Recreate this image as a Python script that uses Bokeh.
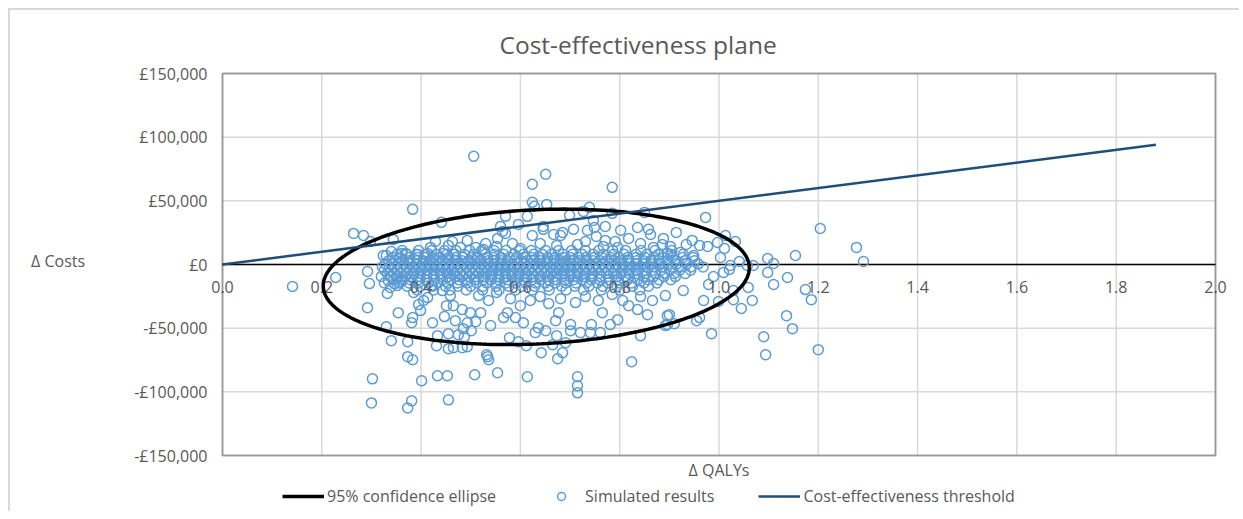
import numpy as np
from bokeh.plotting import figure
from bokeh.models import BoxAnnotation, FixedTicker, Legend, LegendItem, Range1d
from bokeh.core.properties import value
from bokeh.embed import file_html
from bokeh.resources import INLINE

chart_title = "Cost-effectiveness plane"
x_axis_title = "Δ QALYs"
y_axis_title = "Δ Costs"

qaly_ticks = [0.0, 0.2, 0.4, 0.6, 0.8, 1.0, 1.2, 1.4, 1.6, 1.8, 2.0]
qaly_tick_labels = ["0.0", "0.2", "0.4", "0.6", "0.8", "1.0", "1.2", "1.4", "1.6", "1.8", "2.0"]
cost_ticks = [-150000, -100000, -50000, 0, 50000, 100000, 150000]
cost_tick_labels = ["-£150,000", "-£100,000", "-£50,000", "£0", "£50,000", "£100,000", "£150,000"]

series_names = ["95% confidence ellipse", "Simulated results", "Cost-effectiveness threshold"]

# Cost-effectiveness threshold (£50,000 per QALY)
threshold_qaly = [0.0, 1.88]
threshold_cost = [0, 94000]

# 95% confidence ellipse statistics
ellipse_mean_qaly = 0.632
ellipse_mean_cost = -9700
ellipse_sd_qaly = 0.1753
ellipse_sd_cost = 21735
ellipse_corr = 0.133
chi2_95 = 5.991

# Simulated results: scattered points (QALY, cost)
sim_scattered = [
    (0.506, 85000), (0.651, 70900), (0.624, 63000), (0.785, 60600), (0.383, 43300), (0.441, 33100), (0.624, 48800), (0.628, 45700), (0.653, 47200), (0.570, 37800),
    (0.614, 37800), (0.596, 31500), (0.560, 29900), (0.564, 26000), (0.570, 24400), (0.699, 38600), (0.727, 41700), (0.739, 44900), (0.747, 34600), (0.749, 29100),
    (0.785, 40200), (0.850, 40900), (0.771, 29900), (0.836, 29100), (0.858, 27600), (0.862, 23600), (0.707, 27600), (0.735, 26800), (0.646, 27600), (0.646, 29900),
    (0.667, 23600), (0.685, 25200), (0.681, 22800), (0.624, 22800), (0.554, 20500), (0.552, 14200), (0.771, 18900), (0.767, 14200), (0.888, 20500), (0.886, 15700),
    (0.868, 13400), (0.715, 15700), (0.796, 13400), (0.510, 13400), (0.526, 11800), (0.264, 24400), (0.284, 22800), (0.298, 18100), (0.344, 19700), (0.429, 18100),
    (0.463, 18100), (0.493, 18900), (0.479, 13400), (0.340, 10200), (0.324, 7100), (0.330, 7100), (0.361, 8700), (0.369, 8700), (0.393, 7900), (0.413, 8700),
    (0.445, 8700), (0.973, 37000), (0.914, 25200), (1.204, 28300), (1.277, 13400), (1.291, 2400), (1.154, 7100), (1.098, 4700), (1.110, 800),
    (1.013, 22800), (1.033, 18100), (1.011, 12600), (0.997, 17300), (1.003, 5500), (0.977, 14200), (0.961, 15000), (1.041, 2400), (1.023, -800), (1.069, -800),
    (0.949, 7100), (0.922, 9400), (0.896, 8700),
    (0.141, -17300), (0.228, -10200), (0.292, -5500), (0.296, -15000), (0.332, -22800), (0.292, -33900), (0.354, -37800), (0.383, -41700), (0.381, -45700), (0.330, -48800),
    (0.340, -59800), (0.373, -60600), (0.373, -72400), (0.383, -74800), (0.302, -89800), (0.401, -91300), (0.300, -108700), (0.381, -107100), (0.373, -112600), (0.433, -87400),
    (0.453, -87400), (0.508, -86600), (0.455, -106300), (0.433, -55900), (0.455, -54300), (0.475, -55100), (0.487, -56700), (0.431, -63800), (0.455, -66100), (0.465, -65400),
    (0.483, -65400), (0.493, -64600), (0.395, -31500), (0.405, -28300), (0.413, -26000), (0.451, -32300), (0.465, -32300), (0.483, -35400), (0.499, -37800), (0.493, -45700),
    (0.510, -44900), (0.385, -22000), (0.352, -16500), (0.554, -85000), (0.614, -88200), (0.532, -70900), (0.536, -74800), (0.534, -72400), (0.715, -88200), (0.715, -95300),
    (0.715, -100800), (0.642, -69300), (0.675, -74000), (0.685, -69300), (0.824, -76400), (0.842, -55900), (0.578, -57500), (0.596, -60600), (0.612, -63800), (0.665, -63000),
    (0.691, -61400), (0.673, -55900), (0.540, -48000), (0.636, -49600), (0.630, -53500), (0.651, -52000), (0.701, -52000), (0.721, -53500), (0.743, -47200), (0.761, -53500),
    (0.741, -53500), (0.781, -47200), (0.796, -43300), (0.765, -37800), (0.677, -37800), (0.671, -44100), (0.590, -41700), (0.566, -41700), (0.574, -37800), (0.520, -37800),
    (0.606, -45700), (0.701, -47200), (0.836, -35400), (0.856, -39400), (0.818, -32300), (0.896, -40200), (0.892, -48000), (1.098, -6300), (1.110, -15700), (1.138, -10200),
    (1.174, -19700), (1.186, -27600), (1.136, -40200), (1.148, -50400), (1.090, -56700), (1.094, -70900), (1.200, -66900), (1.059, -18100), (1.067, -28300), (1.045, -34600),
    (1.029, -27600), (1.029, -20500), (0.999, -29100), (0.985, -54300), (0.969, -28300), (0.979, -15700), (0.989, -9400), (1.009, -6300), (1.021, -3900), (1.057, -800),
    (0.928, -20500), (0.892, -24400), (0.900, -39400), (0.955, -44100), (0.961, -41700), (0.910, -46500), (0.896, -47200),
    (0.399, -36200), (0.423, -45700), (0.447, -40900), (0.469, -44100), (0.485, -50400), (0.501, -52000), (0.443, -20500), (0.459, -24400), (0.421, -16500), (0.516, -24400),
    (0.536, -28300), (0.552, -22000), (0.580, -26800), (0.600, -32300), (0.620, -28300), (0.640, -25200), (0.657, -30700), (0.681, -26800), (0.711, -29900), (0.731, -25200),
    (0.757, -28300), (0.785, -23600), (0.806, -28300), (0.842, -25200), (0.866, -28300),
    (0.419, 13400), (0.455, 15000), (0.530, 16500), (0.584, 16500), (0.600, 12600), (0.640, 16500), (0.673, 15000), (0.731, 18100), (0.753, 22000), (0.791, 18100),
    (0.818, 20500), (0.842, 16500), (0.902, 14200), (0.934, 15700), (0.946, 18900), (0.802, 26800),
    (0.320, -9400), (0.334, -12600), (0.346, -15000), (0.338, -18100), (0.352, -11000), (0.360, -13400), (0.326, -14500),
]

# Simulated results: dense core, one cost level per row with its QALY values
core_cost_levels = [11000, 8000, 5500, 3000, 500, -2000, -4500, -7000, -9500, -12000, -14500, -17000, -20000]
core_qaly_rows = [
    [0.362, 0.395, 0.421, 0.447, 0.470, 0.498, 0.522, 0.547, 0.571, 0.598, 0.622, 0.651, 0.677, 0.703, 0.731, 0.758, 0.786, 0.812, 0.843, 0.871, 0.905],
    [0.352, 0.371, 0.390, 0.409, 0.431, 0.452, 0.468, 0.487, 0.506, 0.529, 0.548, 0.566, 0.587, 0.606, 0.627, 0.644, 0.663, 0.686, 0.705, 0.724,
     0.746, 0.767, 0.788, 0.809, 0.833, 0.855, 0.878, 0.902, 0.928],
    [0.343, 0.358, 0.377, 0.392, 0.407, 0.423, 0.438, 0.455, 0.470, 0.484, 0.501, 0.515, 0.532, 0.546, 0.561, 0.578, 0.592, 0.609, 0.623, 0.639,
     0.655, 0.670, 0.686, 0.701, 0.717, 0.732, 0.749, 0.765, 0.782, 0.798, 0.816, 0.833, 0.851, 0.869, 0.888, 0.906, 0.927, 0.948],
    [0.335, 0.349, 0.363, 0.376, 0.391, 0.404, 0.417, 0.430, 0.443, 0.457, 0.469, 0.482, 0.496, 0.509, 0.521, 0.535, 0.548, 0.561, 0.574, 0.588,
     0.601, 0.613, 0.627, 0.640, 0.653, 0.667, 0.680, 0.692, 0.706, 0.719, 0.733, 0.746, 0.760, 0.774, 0.789, 0.803, 0.818, 0.834, 0.848, 0.863,
     0.879, 0.896, 0.913, 0.932, 0.951],
    [0.328, 0.341, 0.354, 0.366, 0.379, 0.391, 0.403, 0.415, 0.427, 0.439, 0.451, 0.463, 0.475, 0.487, 0.499, 0.511, 0.523, 0.535, 0.547, 0.559,
     0.571, 0.583, 0.595, 0.607, 0.619, 0.631, 0.643, 0.655, 0.667, 0.679, 0.691, 0.703, 0.715, 0.728, 0.740, 0.753, 0.766, 0.779, 0.792, 0.806,
     0.820, 0.834, 0.849, 0.864, 0.880, 0.897, 0.915, 0.935, 0.958],
    [0.322, 0.336, 0.347, 0.360, 0.372, 0.385, 0.396, 0.409, 0.421, 0.432, 0.445, 0.457, 0.468, 0.481, 0.493, 0.504, 0.517, 0.529, 0.540, 0.553,
     0.565, 0.576, 0.589, 0.601, 0.612, 0.625, 0.637, 0.648, 0.661, 0.673, 0.684, 0.697, 0.709, 0.721, 0.734, 0.747, 0.759, 0.772, 0.786, 0.799,
     0.813, 0.827, 0.842, 0.857, 0.872, 0.888, 0.905, 0.923, 0.944, 0.968],
    [0.326, 0.339, 0.351, 0.364, 0.376, 0.388, 0.400, 0.413, 0.425, 0.436, 0.449, 0.461, 0.472, 0.485, 0.497, 0.508, 0.521, 0.533, 0.544, 0.557,
     0.569, 0.580, 0.593, 0.605, 0.616, 0.629, 0.641, 0.652, 0.665, 0.677, 0.688, 0.701, 0.713, 0.725, 0.738, 0.751, 0.764, 0.777, 0.791, 0.805,
     0.819, 0.834, 0.850, 0.866, 0.883, 0.901, 0.921, 0.943],
    [0.332, 0.346, 0.359, 0.373, 0.386, 0.399, 0.412, 0.426, 0.439, 0.452, 0.465, 0.478, 0.491, 0.504, 0.517, 0.531, 0.544, 0.557, 0.570, 0.583,
     0.596, 0.610, 0.623, 0.636, 0.649, 0.662, 0.675, 0.689, 0.702, 0.716, 0.730, 0.744, 0.758, 0.773, 0.788, 0.803, 0.819, 0.836, 0.853, 0.871,
     0.890, 0.910, 0.932],
    [0.338, 0.353, 0.368, 0.382, 0.397, 0.411, 0.425, 0.440, 0.454, 0.468, 0.483, 0.497, 0.511, 0.526, 0.540, 0.554, 0.569, 0.583, 0.597, 0.612,
     0.626, 0.640, 0.655, 0.669, 0.684, 0.699, 0.714, 0.729, 0.745, 0.761, 0.777, 0.794, 0.811, 0.829, 0.848, 0.868, 0.889, 0.912],
    [0.345, 0.362, 0.378, 0.394, 0.410, 0.427, 0.443, 0.459, 0.476, 0.492, 0.508, 0.525, 0.541, 0.557, 0.574, 0.590, 0.607, 0.623, 0.640, 0.656,
     0.673, 0.690, 0.707, 0.724, 0.742, 0.760, 0.778, 0.797, 0.816, 0.836, 0.857, 0.879, 0.903],
    [0.356, 0.376, 0.395, 0.415, 0.434, 0.454, 0.473, 0.493, 0.512, 0.532, 0.551, 0.571, 0.590, 0.610, 0.630, 0.650, 0.670, 0.691, 0.712, 0.733,
     0.755, 0.777, 0.800, 0.824, 0.849, 0.875],
    [0.372, 0.398, 0.423, 0.449, 0.474, 0.500, 0.525, 0.551, 0.577, 0.603, 0.629, 0.656, 0.683, 0.710, 0.738, 0.766, 0.795, 0.826, 0.858],
    [0.392, 0.425, 0.458, 0.491, 0.524, 0.557, 0.590, 0.624, 0.658, 0.692, 0.727, 0.763, 0.800, 0.840],
]

# ---- assemble simulated results ----
sim_qaly = [q for q, c in sim_scattered]
sim_cost = [c for q, c in sim_scattered]
for level, row in zip(core_cost_levels, core_qaly_rows):
    sim_qaly.extend(row)
    sim_cost.extend([level] * len(row))

# ---- ellipse outline from the mean / covariance ----
cov = np.array([[ellipse_sd_qaly ** 2, ellipse_corr * ellipse_sd_qaly * ellipse_sd_cost],
                [ellipse_corr * ellipse_sd_qaly * ellipse_sd_cost, ellipse_sd_cost ** 2]])
chol = np.linalg.cholesky(cov)
t = np.linspace(0, 2 * np.pi, 241)
circle = np.vstack([np.cos(t), np.sin(t)]) * np.sqrt(chi2_95)
ell = chol @ circle
ellipse_qaly = ellipse_mean_qaly + ell[0]
ellipse_cost = ellipse_mean_cost + ell[1]

TEXT = "#595959"
FONT = "Open Sans"

# geometry (pixels): plot area 993 x 382; the drawing frame also holds the
# title above and the axis title + legend below, so nothing is clipped
AREA_W, AREA_H = 993, 382
PAD_L, PAD_R = 14, 14
PAD_T, PAD_B = 63, 56
YTITLE_PX_ABOVE_ZERO = 22
x_lo, x_hi = qaly_ticks[0], qaly_ticks[-1]
y_lo, y_hi = cost_ticks[0], cost_ticks[-1]
kx = (x_hi - x_lo) / AREA_W
ky = (y_hi - y_lo) / AREA_H

p = figure(
    frame_width=AREA_W + PAD_L + PAD_R, frame_height=AREA_H + PAD_T + PAD_B,
    x_range=Range1d(x_lo - PAD_L * kx, x_hi + PAD_R * kx),
    y_range=Range1d(y_lo - PAD_B * ky, y_hi + PAD_T * ky),
    output_backend="svg", toolbar_location=None, title=None,
    min_border_left=212 - PAD_L, min_border_right=10, min_border_top=0, min_border_bottom=0,
    background_fill_color="white", border_fill_color="white",
)
p.styles = {"margin-left": "8px", "margin-top": "8px",
            "border-left": "2px solid #d9d9d9", "border-top": "2px solid #d9d9d9"}
p.outline_line_color = None
p.xgrid.visible = False
p.ygrid.visible = False
p.xaxis.visible = False

# gridlines, zero line and plot-area border
p.segment(x0=qaly_ticks, y0=[y_lo] * len(qaly_ticks), x1=qaly_ticks, y1=[y_hi] * len(qaly_ticks),
          line_color="#d9d9d9", line_width=1.5, level="underlay")
p.segment(x0=[x_lo] * len(cost_ticks), y0=cost_ticks, x1=[x_hi] * len(cost_ticks), y1=cost_ticks,
          line_color="#d9d9d9", line_width=1.5, level="underlay")
p.segment(x0=[x_lo], y0=[0], x1=[x_hi], y1=[0], line_color="black", line_width=1.5, level="underlay")
p.add_layout(BoxAnnotation(left=x_lo, right=x_hi, bottom=y_lo, top=y_hi, fill_alpha=0,
                           line_color="black", line_width=2))

ya = p.yaxis[0]
ya.ticker = FixedTicker(ticks=cost_ticks)
ya.major_label_overrides = {k: v for k, v in zip(cost_ticks, cost_tick_labels)}
# axis bounds chosen so the (horizontal) axis title sits a little above the zero line
ya.bounds = (y_lo, 2 * YTITLE_PX_ABOVE_ZERO * ky - y_lo)
ya.axis_line_color = None
ya.major_tick_line_color = None
ya.minor_tick_line_color = None
ya.major_tick_out = 0
ya.major_tick_in = 0
ya.major_label_standoff = 1
ya.major_label_text_font = FONT
ya.major_label_text_font_size = "16px"
ya.major_label_text_color = TEXT
ya.axis_label = y_axis_title
ya.axis_label_orientation = "horizontal"
ya.axis_label_standoff = 46
ya.axis_label_text_font = FONT
ya.axis_label_text_font_size = "16px"
ya.axis_label_text_font_style = "normal"
ya.axis_label_text_color = TEXT

# glyphs
r_sim = p.scatter(sim_qaly, sim_cost, marker="circle", size=10, fill_color=None,
                  line_color="#5b9bd5", line_width=1.5)

# horizontal axis crosses at cost = 0: its tick labels sit just under the zero line
p.text(x=qaly_ticks, y=[0] * len(qaly_ticks), text=qaly_tick_labels, y_offset=16,
       text_align="center", text_baseline="top", text_font=value(FONT),
       text_font_size="16px", text_color=TEXT)

r_ell = p.line(ellipse_qaly, ellipse_cost, line_color="black", line_width=3.5)
r_thr = p.line(threshold_qaly, threshold_cost, line_color="#1f4e79", line_width=2.5)

# chart title and x-axis title
p.text(x=[x_lo], y=[y_hi], text=[chart_title], x_offset=277, y_offset=-29,
       text_align="left", text_baseline="middle", text_font=value(FONT),
       text_font_size="24.5px", text_color=TEXT)
p.text(x=[(x_lo + x_hi) / 2], y=[y_lo], text=[x_axis_title], y_offset=14,
       text_align="center", text_baseline="middle", text_font=value(FONT),
       text_font_size="16px", text_color=TEXT)

legend = Legend(items=[LegendItem(label=series_names[0], renderers=[r_ell]),
                       LegendItem(label=series_names[1], renderers=[r_sim]),
                       LegendItem(label=series_names[2], renderers=[r_thr])],
                orientation="horizontal", location=(74, 4),
                glyph_width=42, glyph_height=20, label_standoff=3, spacing=44,
                padding=3, margin=0, border_line_color=None, background_fill_alpha=0,
                label_text_font=FONT, label_text_font_size="16px", label_text_color=TEXT)
p.add_layout(legend)

open("out.html", "w").write(file_html(p, INLINE))
